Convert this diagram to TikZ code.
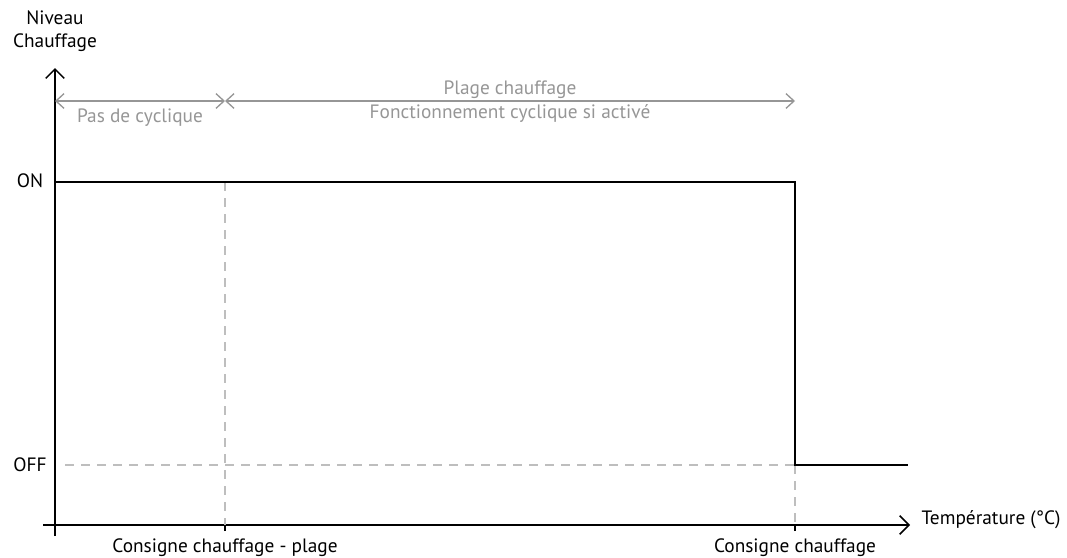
\documentclass[tikz,border=0pt]{standalone}
\usepackage{fontspec}
\setmainfont{PT Sans}
\usepackage{xcolor}
\usetikzlibrary{arrows.meta}

\definecolor{rangegray}{RGB}{150,150,150}
\definecolor{guidegray}{RGB}{190,190,190}

\tikzset{
  axis/.style={line width=1.3pt,-{Straight Barb[length=7pt,width=14pt,line width=1.1pt]}},
  level/.style={line width=1.3pt},
  guide/.style={guidegray,line width=0.9pt,dash pattern=on 7pt off 5pt},
  span/.style={rangegray,line width=1pt,{Straight Barb[length=6pt,width=11pt]}-{Straight Barb[length=6pt,width=11pt]}},
  lbl/.style={font=\fontsize{14.5}{17}\selectfont},
  spanlbl/.style={lbl,text=rangegray}
}

\begin{document}
\begin{tikzpicture}[x=0.75pt,y=-0.75pt]
  \useasboundingbox (0,0) rectangle (1067,557);
  % points of the plot
  \coordinate (orig) at (55,525);
  \coordinate (ytop) at (55,68);
  \coordinate (ybot) at (55,536);
  \coordinate (xleft) at (43,525);
  \coordinate (xend) at (910,525);
  \coordinate (onstart) at (55,182);
  \coordinate (onend) at (795,182);
  \coordinate (offstart) at (795,465);
  \coordinate (offend) at (908,465);
  \coordinate (offdash) at (65,465);
  \coordinate (lowtop) at (225,182);
  \coordinate (lowtick) at (225,531);
  \coordinate (hightick) at (795,531);
  \coordinate (spanA) at (55,101);
  \coordinate (spanB) at (225,101);
  \coordinate (spanC) at (795,101);
  % axes
  \draw[axis] (ybot) -- (ytop);
  \draw[axis] (xleft) -- (xend);
  \draw[line width=1.3pt] (lowtick) -- (225,525);
  \draw[line width=1.3pt] (hightick) -- (795,525);
  % guides
  \draw[guide] (offdash) -- (offstart);
  \draw[guide] (lowtop) -- (225,525);
  \draw[guide] (offstart) -- (795,525);
  % heating level
  \draw[level] (onstart) -- (onend) -- (offstart) -- (offend);
  % ranges
  \draw[span] (spanA) -- (spanB);
  \draw[span] (spanB) -- (spanC);
  \node[spanlbl] (nocycle) at (140,118) {Pas de cyclique};
  \node[spanlbl] (range) at (510,90) {Plage chauffage};
  \node[spanlbl] (cyclic) at (510,114) {Fonctionnement cyclique si activé};
  % labels
  \node[lbl,align=center] (ylabel) at (55,31) {Niveau\\Chauffage};
  \node[lbl] (on) at (30,181) {ON};
  \node[lbl] (off) at (30,465) {OFF};
  \node[lbl,anchor=west] (xlabel) at (917,520) {Température (°C)};
  \node[lbl] (lowset) at (225,548) {Consigne chauffage - plage};
  \node[lbl] (highset) at (795,548) {Consigne chauffage};
\end{tikzpicture}
\end{document}
